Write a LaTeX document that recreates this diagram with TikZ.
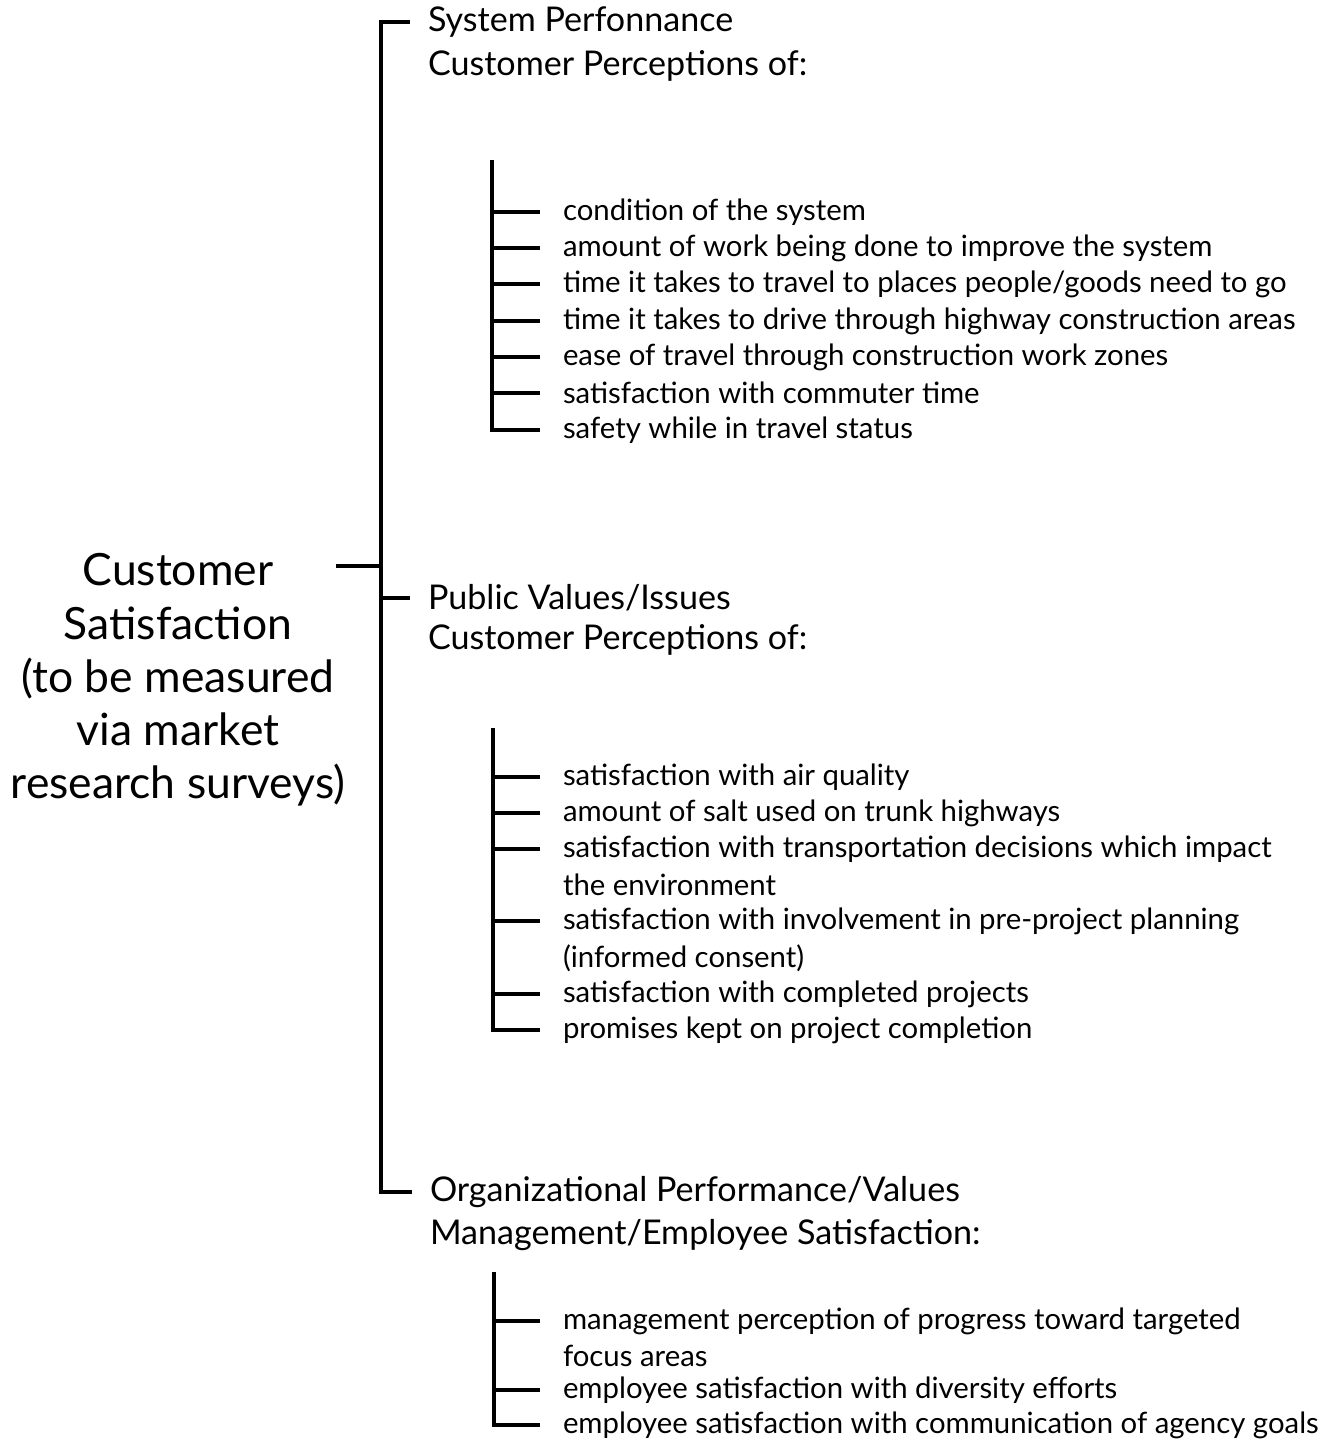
\documentclass[tikz,border=0pt]{standalone}
\usepackage{fontspec}
\setmainfont{Lato}
\usepackage{tikz}

\begin{document}
\begin{tikzpicture}[x=0.02cm, y=-0.02cm,
  bar/.style={line width=2.2pt},
  root/.style={align=center, font=\fontsize{25.3}{30.3}\selectfont},
  head/.style={anchor=west, inner sep=0pt, outer xsep=0.36cm, font=\fontsize{19.4}{22}\selectfont},
  item/.style={anchor=west, inner sep=0pt, outer xsep=0.46cm, font=\fontsize{16.7}{19}\selectfont}]
\useasboundingbox (0,0) rectangle (1326,1443);
% Root of the tree
\node[root] (cs) at (178,680) {Customer\\Satisfaction\\(to be measured\\via market\\research surveys)};
\coordinate (rc) at (336,566);
\coordinate (mx) at (381,0);
% Three headings
\node[head] (sp) at (410,22) {System Perfonnance};
\node[head] (spb) at (410,66) {Customer Perceptions of:};
\node[head] (pv) at (410,598) {Public Values/Issues};
\node[head] (pvb) at (410,640) {Customer Perceptions of:};
\node[head] (op) at (412,1192) {Organizational Performance/Values};
\node[head] (opb) at (412,1235) {Management/Employee Satisfaction:};
% Main bracket
\draw[bar] (sp.west) -- (sp.west -| mx) |- (op.west);
\draw[bar] (pv.west -| mx) -- (pv.west);
\draw[bar] (rc) -- (rc -| mx);
% First list
\coordinate (g1) at (492,160);
\node[item] (a1) at (540,212) {condition of the system};
\node[item] (a2) at (540,248) {amount of work being done to improve the system};
\node[item] (a3) at (540,284) {time it takes to travel to places people/goods need to go};
\node[item] (a4) at (540,321) {time it takes to drive through highway construction areas};
\node[item] (a5) at (540,357) {ease of travel through construction work zones};
\node[item] (a6) at (540,393) {satisfaction with commuter time};
\node[item] (a7) at (540,430) {safety while in travel status};
\draw[bar] (g1) |- (a7.west);
\foreach \i in {1,...,6}
  \draw[bar] (a\i.west -| g1) -- (a\i.west);
% Second list
\coordinate (g2) at (493,728);
\node[item] (b1) at (540,777) {satisfaction with air quality};
\node[item] (b2) at (540,813) {amount of salt used on trunk highways};
\node[item] (b3) at (540,849) {satisfaction with transportation decisions which impact};
\node[item] (b3x) at (540,885) {the environment};
\node[item] (b4) at (540,921) {satisfaction with involvement in pre-project planning};
\node[item] (b4x) at (540,958) {(informed consent)};
\node[item] (b5) at (540,994) {satisfaction with completed projects};
\node[item] (b6) at (540,1030) {promises kept on project completion};
\draw[bar] (g2) |- (b6.west);
\foreach \i in {1,...,5}
  \draw[bar] (b\i.west -| g2) -- (b\i.west);
% Third list
\coordinate (g3) at (494,1272);
\node[item] (c1) at (540,1321) {management perception of progress toward targeted};
\node[item] (c1x) at (540,1356) {focus areas};
\node[item] (c2) at (540,1390) {employee satisfaction with diversity efforts};
\node[item] (c3) at (540,1425) {employee satisfaction with communication of agency goals};
\draw[bar] (g3) |- (c3.west);
\foreach \i in {1,2}
  \draw[bar] (c\i.west -| g3) -- (c\i.west);
\end{tikzpicture}
\end{document}
